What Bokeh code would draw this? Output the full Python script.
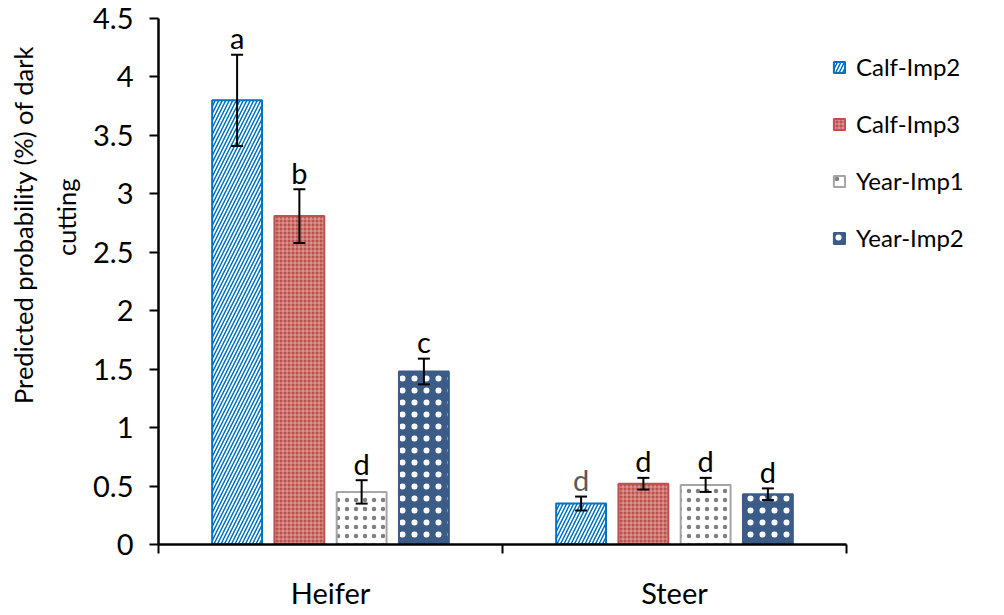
import numpy as np
from bokeh.plotting import figure
from bokeh.models import (ColumnDataSource, Range1d, FixedTicker, Whisker, TeeHead,
                          Legend, LegendItem, Title)
from bokeh.core.properties import value
from bokeh.embed import file_html
from bokeh.resources import INLINE

# ---------------- data ----------------
groups = ["Heifer", "Steer"]
series = ["Calf-Imp2", "Calf-Imp3", "Year-Imp1", "Year-Imp2"]

calf_imp2 = [3.80, 0.35]
calf_imp3 = [2.81, 0.52]
year_imp1 = [0.45, 0.51]
year_imp2 = [1.48, 0.43]

calf_imp2_err = [0.39, 0.06]
calf_imp3_err = [0.23, 0.05]
year_imp1_err = [0.10, 0.06]
year_imp2_err = [0.11, 0.05]

calf_imp2_letters = ["a", "d"]
calf_imp3_letters = ["b", "d"]
year_imp1_letters = ["d", "d"]
year_imp2_letters = ["c", "d"]

y_ticks = [0, 0.5, 1, 1.5, 2, 2.5, 3, 3.5, 4, 4.5]
y_tick_labels = ["0", "0.5", "1", "1.5", "2", "2.5", "3", "3.5", "4", "4.5"]

y_title_lines = ["Predicted probability (%) of dark", "cutting"]

values = [calf_imp2, calf_imp3, year_imp1, year_imp2]
errors = [calf_imp2_err, calf_imp3_err, year_imp1_err, year_imp2_err]
letters = [calf_imp2_letters, calf_imp3_letters, year_imp1_letters, year_imp2_letters]

# ---------------- styles ----------------
FONT = "Lato"
styles = [
    dict(fill_color="white", line_color="#0070C0", hatch_pattern="/",
         hatch_color="#0070C0", hatch_scale=7, hatch_weight=1.5),
    dict(fill_color="#C0504D", line_color="#C0504D", hatch_pattern="+",
         hatch_color="white", hatch_scale=4, hatch_weight=1, hatch_alpha=0.42),
    dict(fill_color="white", line_color="#A5A5A5", hatch_pattern=".",
         hatch_color="#808080", hatch_scale=9, hatch_weight=1.2),
    dict(fill_color="#3C5C88", line_color="#3C5C88", hatch_pattern=".",
         hatch_color="white", hatch_scale=12, hatch_weight=1.0),
]
letter_colors = [["#000000", "#595959"], ["#000000", "#000000"],
                 ["#000000", "#000000"], ["#000000", "#000000"]]
bar_width = 0.145
bar_step = 0.181

# layout (pixels)
W, H = 1000, 612
FL, FT, FB, AX_R = 158, 18, 556, 846   # frame left/top/bottom, x-axis right end
n_groups = len(groups)
x_end = n_groups * (W - FL) / (AX_R - FL)

p = figure(width=W, height=H, output_backend="svg", toolbar_location=None,
           x_range=Range1d(0, x_end), y_range=Range1d(0, 4.5),
           min_border_left=FL, min_border_right=0,
           min_border_top=FT, min_border_bottom=H - FB)
p.outline_line_color = None
p.xgrid.visible = False
p.ygrid.visible = False
p.background_fill_color = "white"
p.border_fill_color = "white"

items = []
for i, name in enumerate(series):
    xs = [g + 0.5 + (i - 1.5) * bar_step for g in range(n_groups)]
    v = values[i]
    e = errors[i]
    src = ColumnDataSource(dict(
        x=xs, top=v,
        upper=[a + b for a, b in zip(v, e)],
        lower=[a - b for a, b in zip(v, e)],
        letters=letters[i], lcolor=letter_colors[i]))
    r = p.vbar(x="x", top="top", width=bar_width, line_width=2, source=src, **styles[i])
    items.append(LegendItem(label=name, renderers=[r]))
    wh = Whisker(base="x", upper="upper", lower="lower", source=src,
                 line_color="black", line_width=2, level="overlay",
                 upper_head=TeeHead(size=12, line_width=2, line_color="black"),
                 lower_head=TeeHead(size=12, line_width=2, line_color="black"))
    p.add_layout(wh)
    p.text(x="x", y="upper", text="letters", text_color="lcolor", source=src,
           text_align="center", text_baseline="alphabetic", y_offset=-17,
           text_font=value(FONT), text_font_size="29px")

legend = Legend(items=items, location=(674, 292), orientation="vertical",
                glyph_width=14, glyph_height=14, label_standoff=10,
                label_text_font=FONT, label_text_font_size="24px",
                label_text_color="black",
                spacing=28, padding=0, margin=0,
                border_line_color=None, background_fill_alpha=0)
p.add_layout(legend)

# y axis
ya = p.yaxis[0]
ya.ticker = FixedTicker(ticks=y_ticks)
ya.major_label_overrides = {t: s for t, s in zip(y_ticks, y_tick_labels)}
ya.major_tick_out = 9
ya.major_tick_in = 0
ya.minor_tick_out = 0
ya.minor_tick_in = 0
ya.axis_line_width = 2.5
ya.major_tick_line_width = 2
ya.major_label_text_font = FONT
ya.major_label_text_font_size = "29px"
ya.major_label_text_color = "black"
ya.major_label_standoff = 16
ya.axis_line_color = "black"

# x axis: group labels at centres, tick marks at group boundaries
xa = p.xaxis[0]
centres = [g + 0.5 for g in range(n_groups)]
xa.ticker = FixedTicker(ticks=centres, minor_ticks=list(range(n_groups + 1)))
xa.bounds = (0, n_groups)
xa.major_label_overrides = {c: g for c, g in zip(centres, groups)}
xa.major_tick_out = 0
xa.major_tick_in = 0
xa.major_tick_line_color = None
xa.minor_tick_out = 9
xa.minor_tick_in = 0
xa.minor_tick_line_width = 2
xa.minor_tick_line_color = "black"
xa.axis_line_width = 2.5
xa.axis_line_color = "black"
xa.major_label_text_font = FONT
xa.major_label_text_font_size = "29px"
xa.major_label_text_color = "black"
xa.major_label_standoff = 21

# y-axis title: two lines as left-side titles
def mk_title(text, offset, standoff):
    kw = dict(text=text, align="right", vertical_align="top", offset=offset,
              text_font=FONT, text_font_size="25.5px", text_font_style="normal",
              text_color="black")
    if "standoff" in Title.properties():
        kw["standoff"] = standoff
    return Title(**kw)

p.add_layout(mk_title(y_title_lines[1], 160, 15), "left")
p.add_layout(mk_title(y_title_lines[0], 27, 8), "left")

open("out.html", "w").write(file_html(p, INLINE))
